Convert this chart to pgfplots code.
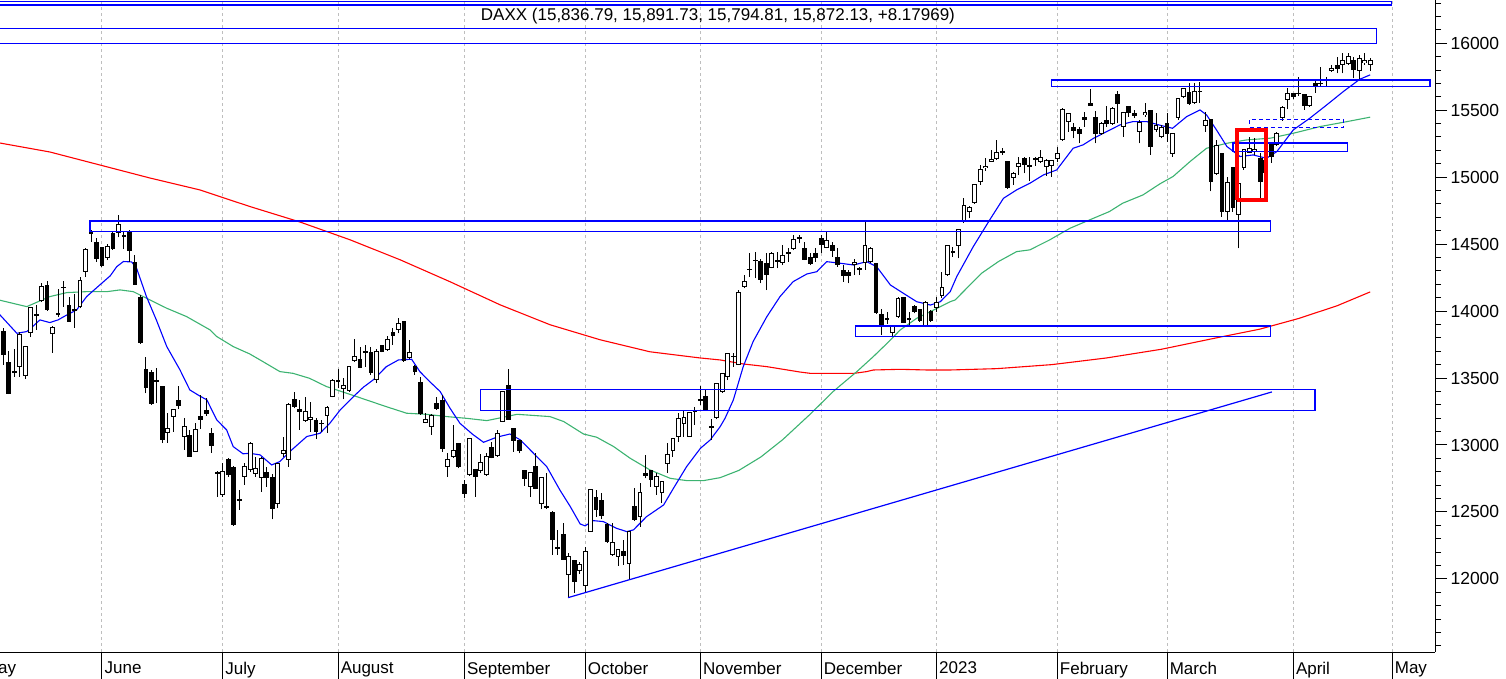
\documentclass[border=0pt]{standalone}
\usepackage{fontspec}
\setmainfont{Liberation Sans}
\usepackage{pgfplots}
\pgfplotsset{compat=1.18}
\usepackage{pgfplotstable}
\definecolor{mablue}{RGB}{0,0,255}
\definecolor{magreen}{RGB}{60,179,113}
\definecolor{mared}{RGB}{255,0,0}
\definecolor{gridgray}{RGB}{190,190,190}

\pgfplotstableread{
i o h l c
-16 13850 13870 13600 13674
-15 13620 13700 13380 13381
-14 13550 13720 13510 13534
-13 13586 13847 13511 13828
-12 13516 13740 13491 13739
-11 13834 14029 13805 14027
-10 13980 14046 13859 13964
-9 14078 14208 14071 14186
-8 14195 14225 14001 14008
-7 13827 13889 13690 13882
-6 13970 14163 13954 13982
-5 14180 14225 14034 14175
-4 14046 14108 13921 13920
-3 14015 14128 13877 14008
-2 14029 14257 14021 14231
-1 14290 14469 14253 14462
0 14590 14606 14519 14575
1 14514 14544 14370 14388
2 14476 14480 14330 14340
3 14394 14500 14380 14485
4 14581 14589 14457 14460
5 14581 14718 14551 14653
6 14570 14593 14462 14556
7 14593 14606 14369 14445
8 14364 14419 14195 14198
9 14108 14121 13755 13762
10 13566 13660 13386 13427
11 13548 13560 13300 13304
12 13470 13573 13312 13483
13 13441 13441 13013 13038
14 13088 13237 13018 13126
15 13207 13267 13100 13265
16 13336 13441 13270 13293
17 13058 13200 12963 13144
18 13073 13113 12913 12912
19 12951 13162 12951 13118
20 13217 13374 13120 13186
21 13262 13349 13217 13231
22 13088 13130 12943 12990
23 12795 12805 12615 12783
24 12627 12864 12615 12809
25 12893 12900 12764 12773
26 12839 12845 12395 12401
27 12590 12665 12515 12595
28 12764 12864 12702 12843
29 12814 13020 12800 13013
30 12781 12913 12764 12831
31 12751 12908 12652 12905
32 12796 12839 12689 12756
33 12764 12784 12445 12519
34 12560 12863 12527 12864
35 12931 13063 12913 12959
36 12888 13311 12839 13308
37 13346 13399 13274 13282
38 13265 13336 13112 13246
39 13179 13361 13175 13254
40 13187 13324 13100 13210
41 13187 13199 13043 13097
42 13160 13187 13100 13166
43 13217 13291 13092 13282
44 13356 13490 13356 13484
45 13484 13565 13423 13479
46 13416 13498 13341 13449
47 13404 13590 13399 13587
48 13630 13789 13623 13662
49 13640 13735 13573 13573
50 13700 13747 13585 13688
51 13697 13735 13523 13535
52 13486 13715 13461 13700
53 13747 13747 13692 13694
54 13710 13814 13705 13795
55 13847 13871 13747 13816
56 13859 13946 13834 13910
57 13926 13926 13623 13626
58 13648 13784 13640 13697
59 13590 13598 13523 13544
60 13473 13511 13224 13231
61 13162 13237 13162 13194
62 13132 13232 13075 13221
63 13316 13361 13262 13271
64 13336 13374 12950 12971
65 12834 12938 12764 12892
66 12913 13150 12901 12961
67 13013 13013 12826 12835
68 12709 12739 12602 12631
69 12776 13050 12769 13050
70 12819 12819 12615 12761
71 12809 12933 12789 12871
72 12776 12938 12769 12916
73 12988 13025 12900 12904
74 12918 13112 12913 13088
75 13175 13404 13170 13402
76 13448 13568 13187 13188
77 13125 13125 12951 13033
78 13038 13038 12938 12958
79 12814 12814 12694 12744
80 12684 12801 12610 12801
81 12844 12938 12669 12669
82 12557 12764 12520 12764
83 12545 12789 12525 12531
84 12498 12510 12179 12291
85 12240 12366 12179 12227
86 12336 12416 12142 12142
87 12030 12191 11863 12174
88 12142 12142 11893 11980
89 12060 12125 12040 12109
90 11950 12241 11893 12209
91 12353 12670 12353 12670
92 12614 12664 12465 12517
93 12590 12639 12445 12471
94 12410 12415 12270 12273
95 12179 12416 12171 12272
96 12166 12221 12097 12220
97 12209 12291 12104 12172
98 12112 12355 11997 12355
99 12547 12677 12435 12437
100 12460 12714 12390 12649
101 12789 12926 12750 12765
102 12814 12814 12689 12741
103 12684 12789 12627 12767
104 12644 12734 12565 12731
105 12858 13013 12789 12931
106 12958 13050 12913 13050
107 13058 13237 13025 13199
108 13155 13257 13063 13211
109 13063 13244 13063 13243
110 13260 13287 13150 13253
111 13335 13441 13299 13338
112 13366 13416 13262 13262
113 13145 13192 13038 13130
114 13199 13461 13192 13461
115 13398 13540 13390 13535
116 13510 13689 13485 13689
117 13665 13689 13585 13660
118 13597 14157 13597 14146
119 14182 14269 14170 14224
120 14315 14431 14257 14313
121 14380 14438 14244 14379
122 14376 14386 14207 14234
123 14357 14431 14157 14267
124 14319 14439 14319 14431
125 14370 14438 14319 14380
126 14356 14493 14344 14422
127 14440 14468 14369 14428
128 14461 14568 14456 14540
129 14550 14568 14506 14541
130 14473 14518 14381 14383
131 14401 14431 14344 14355
132 14431 14468 14369 14397
133 14543 14568 14431 14490
134 14468 14593 14468 14529
135 14493 14518 14406 14447
136 14406 14468 14331 14343
137 14307 14344 14220 14261
138 14290 14307 14207 14264
139 14344 14386 14269 14370
140 14320 14331 14269 14306
141 14356 14675 14307 14497
142 14370 14480 14360 14468
143 14356 14356 13980 13986
144 13978 14013 13821 13893
145 13946 13990 13900 13943
146 13839 13889 13804 13889
147 13958 14103 13950 14097
148 14103 14103 13910 13914
149 13946 13995 13884 13940
150 14038 14045 13983 13995
151 14013 14013 13920 13926
152 13884 14075 13880 14071
153 14003 14010 13920 13924
154 14021 14108 13995 14069
155 14113 14295 14096 14182
156 14270 14494 14260 14490
157 14450 14481 14407 14436
158 14487 14615 14394 14610
159 14668 14842 14656 14792
160 14743 14785 14693 14774
161 14810 14950 14800 14948
162 14967 15091 14942 15058
163 15066 15141 15049 15087
164 15116 15203 15116 15135
165 15134 15278 15129 15187
166 15195 15216 15166 15181
167 15121 15121 14915 14920
168 14992 15037 14942 15033
169 15074 15149 15017 15103
170 15141 15149 15029 15094
171 15090 15149 14975 15082
172 15140 15149 15084 15132
173 15116 15203 15104 15150
174 15074 15134 15009 15126
175 15084 15129 15004 15128
176 15134 15228 15116 15181
177 15278 15514 15271 15509
178 15415 15482 15340 15476
179 15378 15407 15290 15346
180 15358 15378 15253 15320
181 15452 15490 15378 15427
182 15557 15656 15532 15532
183 15447 15497 15253 15323
184 15323 15415 15315 15408
185 15427 15532 15378 15397
186 15397 15522 15390 15514
187 15621 15646 15402 15547
188 15378 15490 15303 15490
189 15532 15532 15452 15482
190 15482 15500 15440 15457
191 15340 15427 15253 15415
192 15465 15552 15452 15485
193 15502 15502 15166 15228
194 15353 15477 15340 15390
195 15298 15390 15290 15378
196 15402 15477 15265 15323
197 15174 15333 15154 15333
198 15440 15589 15430 15589
199 15597 15664 15589 15664
200 15639 15706 15540 15547
201 15552 15706 15547 15644
202 15645 15714 15552 15639
203 15380 15490 15340 15428
204 15435 15435 14893 14967
205 15022 15278 15017 15241
206 15179 15179 14706 14743
207 14740 15000 14670 14967
208 15079 15079 14743 14768
209 14718 14955 14469 14955
210 15067 15209 15054 15209
211 15184 15298 15179 15216
212 15190 15290 15166 15210
213 15141 15179 14818 14967
214 15030 15160 15010 15128
215 15250 15253 15109 15154
216 15241 15340 15233 15333
217 15439 15530 15420 15521
218 15576 15663 15507 15631
219 15626 15626 15581 15596
220 15630 15745 15606 15620
221 15619 15619 15502 15531
222 15531 15606 15527 15606
223 15706 15726 15631 15671
224 15705 15825 15676 15701
225 15721 15751 15681 15733
226 15795 15838 15788 15813
227 15835 15900 15775 15805
228 15838 15925 15775 15875
229 15845 15930 15838 15905
230 15875 15900 15738 15800
231 15795 15912 15726 15887
232 15850 15930 15838 15875
233 15836.79 15891.73 15794.81 15872.13
}\candles

\pgfplotstableread{
x y
-17 13990
-13.5 13834
-11.7 13847
-10.5 13889
-9.3 13934
-7.5 13914
-6 13934
-4.4 13971
-2.6 14009
-0.8 14108
1.6 14195
3.5 14263
4.7 14332
5.9 14370
7.4 14367
8.3 14320
10.1 14108
11.9 13934
13.8 13735
16.2 13561
18 13411
19.8 13366
21.1 13337
22.9 13187
24.7 13113
25.9 12988
27.7 12934
28.9 12938
30.8 12926
32.9 12851
34.4 12876
36.2 12950
39.3 13063
41.7 13087
43.5 13162
45.4 13262
47.8 13361
49.6 13431
51.4 13486
53.8 13585
56 13635
58.4 13640
59.9 13548
61.7 13473
63.6 13399
65.4 13274
67.2 13162
69.5 13080
71.5 13020
73.9 13058
76.3 13082
78.2 13038
80.6 12938
83 12839
85.4 12664
87.3 12540
89.1 12410
90 12396
91.5 12435
93.3 12428
95.7 12378
97.6 12353
98.8 12366
101.2 12465
104.3 12552
106.1 12677
108.5 12839
111 12975
112.8 13038
114.6 13137
115.5 13200
117 13336
118.8 13585
120.6 13772
123.1 13958
125.5 14108
127.9 14220
130.4 14277
132.2 14294
134 14369
136.5 14357
138.9 14344
141.3 14369
143.1 14332
145.6 14195
148 14132
150.4 14070
152.9 14045
154.7 14070
156.5 14145
157.7 14258
160.7 14481
163.7 14681
166.2 14842
168.6 14905
171 14954
173.5 15017
175.9 15054
178.9 15216
180.7 15241
182.6 15290
185 15340
187.4 15390
189.8 15415
192.3 15415
194.7 15388
197 15365
199.6 15453
202 15502
203.2 15465
205 15353
206.9 15229
209.3 15154
211.7 15166
214.1 15141
216 15191
219 15353
222 15440
225.1 15540
228.1 15639
231.1 15731
233 15764
}\mablue

\pgfplotstableread{
x y
-17 14085
-11.7 14033
-7.5 14108
-4.4 14138
-0.8 14145
2.9 14145
5.3 14158
7.7 14145
10.1 14096
13.8 14021
17.4 13959
21.7 13859
22.9 13810
25.9 13735
28.9 13680
30.8 13635
34.4 13548
36.8 13535
39.8 13498
42.9 13436
46.6 13386
50.2 13336
53.8 13286
57.5 13237
61.1 13229
64.8 13212
68.4 13199
72.1 13182
75.1 13207
77.6 13229
83.6 13212
86.1 13175
89.7 13082
92.1 13058
95.2 12988
98.2 12901
101.8 12814
105.5 12751
108.5 12734
111.6 12734
114.6 12756
118 12810
122 12910
126 13040
131 13230
135.2 13400
139.5 13548
142.5 13660
145 13759
147.4 13859
150.4 13946
153.5 14008
156.5 14070
157.4 14083
162.2 14282
165.3 14370
168.6 14444
171 14457
174.6 14531
178.3 14618
181.9 14681
185.5 14743
187.9 14805
191.6 14867
194.7 14950
197.1 15005
200.2 15117
203.2 15216
206.9 15253
210.5 15278
214.8 15291
219 15328
223.9 15378
228.8 15415
233 15448
}\magreen

\pgfplotstableread{
x y
-17 15258
-7.5 15188
1.6 15091
10.7 14994
19.9 14904
25.3 14830
29 14780
38 14666
47.2 14532
56.3 14383
65.4 14219
74.5 14047
83.6 13898
92.7 13786
101.8 13696
110.9 13650
114.6 13635
118.8 13605
123.1 13585
129.1 13545
131 13535
139 13535
141.3 13548
142.5 13560
147.4 13565
152.3 13560
156.5 13560
165 13570
175 13600
185 13650
195 13715
205 13800
212.9 13865
220 13945
227 14040
233 14143
}\mared

\begin{document}
\begin{tikzpicture}
\begin{axis}[
  scale only axis, width=1435bp, height=652bp,
  xmin=-16.576, xmax=244.81, ymin=11454, ymax=16323,
  axis x line=bottom, axis y line=right,
  axis line style={-, black, line width=1bp},
  tick align=outside,
  major tick length=12bp, minor tick length=6bp,
  every tick/.style={black, line width=1bp},
  ytick={12000,12500,13000,13500,14000,14500,15000,15500,16000},
  minor ytick={11500,11600,11700,11800,11900,12100,12200,12300,12400,12600,12700,12800,12900,13100,13200,13300,13400,13600,13700,13800,13900,14100,14200,14300,14400,14600,14700,14800,14900,15100,15200,15300,15400,15600,15700,15800,15900,16100,16200,16300},
  /pgf/number format/assume math mode=true,
  /pgf/number format/1000 sep={},
  scaled y ticks=false,
  yticklabel style={font=\fontsize{17.5bp}{20bp}\selectfont},
  xtick=\empty,
  minor xtick={-15,-10,-5,0,5,10,15,20,25,30,35,40,45,50,55,60,65,70,75,80,85,90,95,100,105,110,115,120,125,130,135,140,145,150,154,159,164,169,174,179,184,189,194,199,204,209,214,219,223,227,232,237,242},
  extra x ticks={2,24,45,68,90,111,133,154,176,196,219,237},
  extra x tick labels={June,July,August,September,October,November,December,2023,February,March,April,May},
  extra x tick style={grid=major, major tick length=27bp,
     xticklabel style={anchor=north west, inner sep=0pt, xshift=2.5bp, yshift=17.3bp, font=\fontsize{17bp}{20bp}\selectfont}},
  major grid style={gridgray, dash pattern=on 3bp off 3bp, line width=1bp},
  clip=true,
]
% moving averages
\addplot[mared, line width=1.1bp, mark=none] table[x=x,y=y] {\mared};
\addplot[magreen, line width=1.1bp, mark=none] table[x=x,y=y] {\magreen};
\addplot[mablue, line width=1.1bp, mark=none] table[x=x,y=y] {\mablue};
% wicks
\addplot[draw=none, mark=none, forget plot,
  error bars/.cd, y dir=plus, y explicit, error mark=none,
  error bar style={draw=black, solid, line width=1bp}]
  table[x=i, y=l, y error plus expr=\thisrow{h}-\thisrow{l}] {\candles};
% bodies (outline / black fill)
\addplot[draw=none, mark=none, forget plot,
  error bars/.cd, y dir=both, y explicit, error mark=none,
  error bar style={draw=black, solid, line width=4.8bp}]
  table[x=i, y expr=(\thisrow{o}+\thisrow{c})/2, y error expr={max(abs(\thisrow{c}-\thisrow{o})/2,3.7)}] {\candles};
% hollow interior for rising candles
\addplot[draw=none, mark=none, forget plot,
  error bars/.cd, y dir=both, y explicit, error mark=none,
  error bar style={draw=white, solid, line width=2.8bp}]
  table[x=i, y expr=(\thisrow{o}+\thisrow{c})/2, y error expr={max((\thisrow{c}-\thisrow{o})/2-7.47,0)}] {\candles};
% drawn zones and lines
\addplot[mablue, line width=1.2bp, mark=none] coordinates {(-17,16286) (236.9,16286) (236.9,16310) (-17,16310) (-17,16286)};
\addplot[mablue, line width=1.2bp, mark=none] coordinates {(-17,16000) (234.1,16000) (234.1,16111) (-17,16111) (-17,16000)};
\addplot[mablue, line width=1.2bp, mark=none] coordinates {(175,15676) (243.9,15676) (243.9,15726) (175,15726) (175,15676)};
\addplot[mablue, line width=1.2bp, mark=none] coordinates {(-0.2,14593) (214.8,14593) (214.8,14672) (-0.2,14672) (-0.2,14593)};
\addplot[mablue, line width=1.2bp, mark=none] coordinates {(139.2,13809) (214.8,13809) (214.8,13889) (139.2,13889) (139.2,13809)};
\addplot[mablue, line width=1.2bp, mark=none] coordinates {(70.9,13256) (222.95,13256) (222.95,13415) (70.9,13415) (70.9,13256)};
\addplot[mablue, line width=1.2bp, mark=none] coordinates {(208,15190) (228.8,15190) (228.8,15255) (208,15255) (208,15190)};
\addplot[mablue, line width=1bp, dash pattern=on 4bp off 3bp, mark=none] coordinates {(211.1,15373) (228.1,15373) (228.1,15433) (211.1,15433) (211.1,15373)};
\addplot[mablue, line width=1.2bp, mark=none] coordinates {(86.9,11860) (215.1,13396)};
\addplot[mared, line width=3.5bp, mark=none] coordinates {(208.7,14830) (214,14830) (214,15352) (208.7,15352) (208.7,14830)};
\node[font=\fontsize{17bp}{20bp}\selectfont] at (rel axis cs:0.5003,0.9755) {DAXX (15,836.79, 15,891.73, 15,794.81, 15,872.13, +8.17969)};
\coordinate (maypos) at (axis cs:-20,11454);
\coordinate (bl) at (axis cs:-16.576,11454);
\coordinate (tr) at (axis cs:244.81,16323);
\end{axis}
\node[anchor=north west, inner sep=0pt, xshift=2.5bp, yshift=-9.7bp, font=\fontsize{17bp}{20bp}\selectfont] at (maypos) {May};
\pgfresetboundingbox
\path[use as bounding box] ([yshift=-27bp]bl) rectangle ([xshift=71bp]tr);
\end{tikzpicture}
\end{document}
